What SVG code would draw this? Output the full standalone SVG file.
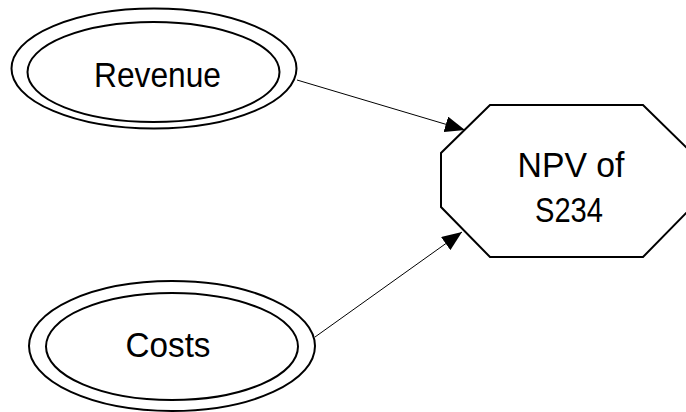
<svg xmlns="http://www.w3.org/2000/svg" width="686" height="412" viewBox="0 0 686 412">
<defs>
<marker id="arr" markerUnits="userSpaceOnUse" markerWidth="21" markerHeight="16" refX="20" refY="8" orient="auto">
<path d="M0,0 L20,8 L0,16 z" fill="#000"/>
</marker>
<style>
.shape{fill:#fff;stroke:#000;stroke-width:2}
.lbl{font-family:"Liberation Sans",Arial,sans-serif;font-size:35.5px;fill:#000;text-anchor:middle}
.edge{stroke:#000;stroke-width:1;fill:none;marker-end:url(#arr)}
</style>
</defs>
<rect width="686" height="412" fill="#fff"/>
<g id="revenue">
<ellipse class="shape" cx="154" cy="68.5" rx="142.5" ry="60"/>
<ellipse class="shape" cx="153.5" cy="72" rx="126" ry="50"/>
<text class="lbl" x="157.5" y="87" textLength="127" lengthAdjust="spacingAndGlyphs">Revenue</text>
</g>
<g id="costs">
<ellipse class="shape" cx="172" cy="346" rx="143" ry="65"/>
<ellipse class="shape" cx="172" cy="346.5" rx="126" ry="53.5"/>
<text class="lbl" x="168" y="357" textLength="85" lengthAdjust="spacingAndGlyphs">Costs</text>
</g>
<g id="npv">
<polygon class="shape" points="490,105 643,105 692,153 692,207 643,257 490,257 441,207 441,153"/>
<text class="lbl" x="571" y="177" textLength="107" lengthAdjust="spacingAndGlyphs">NPV of</text>
<text class="lbl" x="569" y="222" textLength="68" lengthAdjust="spacingAndGlyphs">S234</text>
</g>
<g id="connectors">
<line class="edge" x1="297" y1="80" x2="465" y2="130"/>
<line class="edge" x1="315" y1="337" x2="462" y2="232"/>
</g>
</svg>
